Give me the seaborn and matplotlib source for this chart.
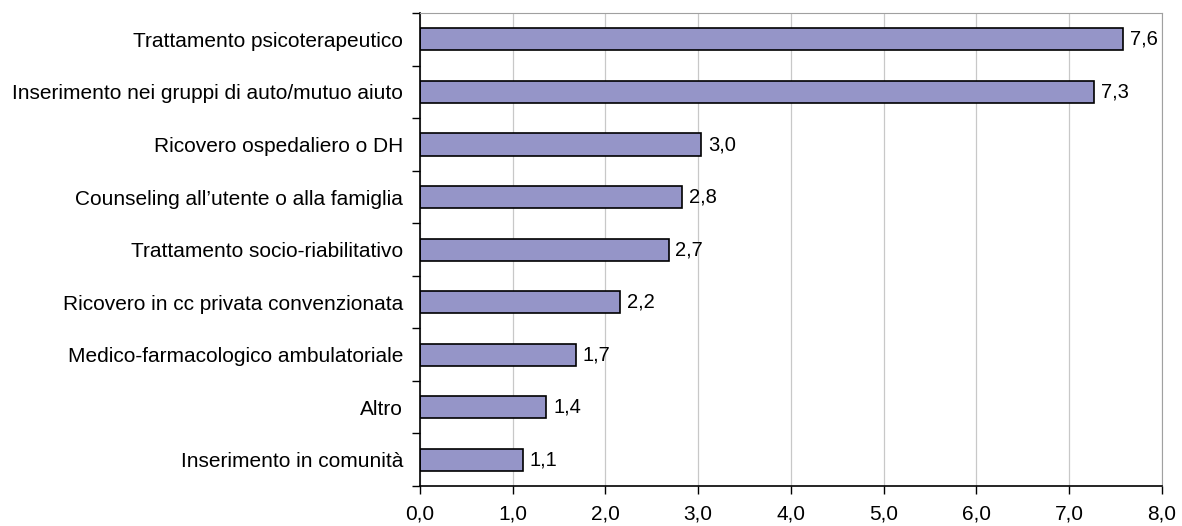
import matplotlib
matplotlib.use("Agg")
import matplotlib.pyplot as plt
import numpy as np
import pandas as pd
import seaborn as sns

categories = [
    "Trattamento psicoterapeutico",
    "Inserimento nei gruppi di auto/mutuo aiuto",
    "Ricovero ospedaliero o DH",
    "Counseling all\u2019utente o alla famiglia",
    "Trattamento socio-riabilitativo",
    "Ricovero in cc privata convenzionata",
    "Medico-farmacologico ambulatoriale",
    "Altro",
    "Inserimento in comunit\u00e0",
]
values = [7.58, 7.27, 3.03, 2.83, 2.68, 2.16, 1.68, 1.36, 1.11]
x_ticks = [0, 1, 2, 3, 4, 5, 6, 7, 8]

sns.set_style("white")
plt.rcParams["font.family"] = ["Liberation Sans", "DejaVu Sans"]
plt.rcParams["text.color"] = "black"
plt.rcParams["xtick.color"] = "black"
plt.rcParams["ytick.color"] = "black"

df = pd.DataFrame({"categoria": categories, "valore": values})

fig = plt.figure(figsize=(11.82, 5.26), dpi=100)
ax = fig.add_axes([0.3553, 0.076, 0.983 - 0.3553, 0.975 - 0.076])

sns.barplot(data=df, x="valore", y="categoria", orient="h", color="#9595C8",
            saturation=1, edgecolor="black", linewidth=1.2, width=0.42, ax=ax)

# etichette con la virgola decimale
labels = [f"{v:.1f}".replace(".", ",") for v in values]
ax.bar_label(ax.containers[0], labels=labels, padding=5, fontsize=14.5, color="black")

ax.set_xlim(0, 8)
ax.set_ylim(len(categories) - 0.5, -0.5)
ax.set_xticks(x_ticks)
ax.set_xticklabels([f"{t:.1f}".replace(".", ",") for t in x_ticks], fontsize=15)
ax.set_xlabel("")
ax.set_ylabel("")
ax.tick_params(axis="y", which="major", length=0, pad=12, labelsize=15, labelcolor="black")
ax.set_yticks(np.arange(-0.5, len(categories), 1.0), minor=True)
ax.tick_params(axis="y", which="minor", length=6, width=1, direction="out", color="black", left=True)
ax.tick_params(axis="x", length=6, width=1, direction="out", color="black", bottom=True,
               pad=7, labelcolor="black")

ax.grid(axis="x", color="#C8C8C8", linewidth=0.9)
ax.set_axisbelow(True)
ax.spines["left"].set_color("black")
ax.spines["bottom"].set_color("black")
ax.spines["left"].set_linewidth(1.2)
ax.spines["bottom"].set_linewidth(1.2)
ax.spines["top"].set_color("#A0A0A0")
ax.spines["right"].set_color("#A0A0A0")

fig.savefig("out.png", dpi=100)
